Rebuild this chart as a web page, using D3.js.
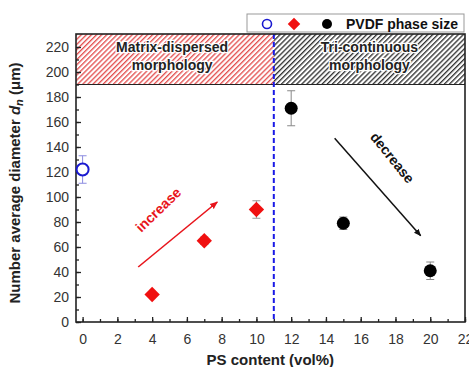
<!DOCTYPE html>
<html>
<head>
<meta charset="utf-8">
<script src="https://cdn.jsdelivr.net/npm/d3@7"></script>
<style>
  body { margin: 0; background: #fff; }
  text { font-family: "Liberation Sans", Arial, sans-serif; }
</style>
</head>
<body>
<div id="chart"></div>
<script>
// data
var neatX      = [0];
var neatY      = [122];
var neatErr    = [11];
var dispX      = [4, 7, 10];
var dispY      = [22, 65, 90];
var dispErr    = [2, 3, 7];
var triX       = [12, 15, 20];
var triY       = [171, 79, 41];
var triErr     = [14, 5, 7];
var xTicks     = [0, 2, 4, 6, 8, 10, 12, 14, 16, 18, 20, 22];
var yTicks     = [0, 20, 40, 60, 80, 100, 120, 140, 160, 180, 200, 220];
var boundaryX  = 11;
var bandFloor  = 190;

var chart_width  = 469;
var chart_height = 367;
var margin = { top: 34, right: 4, bottom: 45, left: 76 };
var w = chart_width - margin.left - margin.right;
var h = chart_height - margin.top - margin.bottom;

var svg = d3.select( '#chart' )
    .append( 'svg' )
    .attr( 'width', chart_width )
    .attr( 'height', chart_height );

var defs = svg.append( 'defs' );
function hatch( id, color ){
    var p = defs.append( 'pattern' )
        .attr( 'id', id )
        .attr( 'patternUnits', 'userSpaceOnUse' )
        .attr( 'width', 3.6 )
        .attr( 'height', 3.6 )
        .attr( 'patternTransform', 'rotate(45)' );
    p.append( 'rect' ).attr( 'width', 3.6 ).attr( 'height', 3.6 ).attr( 'fill', '#fff' );
    p.append( 'line' )
        .attr( 'x1', 0.7 ).attr( 'y1', 0 ).attr( 'x2', 0.7 ).attr( 'y2', 3.6 )
        .attr( 'stroke', color ).attr( 'stroke-width', 1.2 );
}
hatch( 'hatchRed', '#e03a3a' );
hatch( 'hatchBlack', '#1a1a1a' );

var x = d3.scaleLinear().domain( [ -0.38, 22 ] ).range( [ 0, w ] );
var y = d3.scaleLinear().domain( [ 0, 230.4 ] ).range( [ h, 0 ] );

var g = svg.append( 'g' )
    .attr( 'transform', 'translate(' + margin.left + ',' + margin.top + ')' );

// hatched morphology bands
g.append( 'rect' )
    .attr( 'x', 0 ).attr( 'y', 0 )
    .attr( 'width', x( boundaryX ) )
    .attr( 'height', y( bandFloor ) )
    .attr( 'fill', 'url(#hatchRed)' );
g.append( 'rect' )
    .attr( 'x', x( boundaryX ) ).attr( 'y', 0 )
    .attr( 'width', w - x( boundaryX ) )
    .attr( 'height', y( bandFloor ) )
    .attr( 'fill', 'url(#hatchBlack)' );
g.append( 'line' )
    .attr( 'x1', 0 ).attr( 'x2', w )
    .attr( 'y1', y( bandFloor ) ).attr( 'y2', y( bandFloor ) )
    .attr( 'stroke', '#222' ).attr( 'stroke-width', 1.2 );

function bandLabel( cx, lines ){
    var t = g.append( 'text' )
        .attr( 'x', cx )
        .attr( 'y', 18 )
        .attr( 'text-anchor', 'middle' )
        .attr( 'font-size', 14 )
        .attr( 'font-weight', 'bold' )
        .attr( 'fill', '#222' )
        .attr( 'stroke', '#fff' )
        .attr( 'stroke-width', 2.5 )
        .attr( 'paint-order', 'stroke' );
    lines.forEach( function( s, i ){
        t.append( 'tspan' ).attr( 'x', cx ).attr( 'dy', i ? 18 : 0 ).text( s );
    });
}
bandLabel( x( 5.15 ), [ 'Matrix-dispersed', 'morphology' ] );
bandLabel( x( 16.5 ), [ 'Tri-continuous', 'morphology' ] );

// boundary line
g.append( 'line' )
    .attr( 'x1', x( boundaryX ) ).attr( 'x2', x( boundaryX ) )
    .attr( 'y1', 0 ).attr( 'y2', h )
    .attr( 'stroke', '#1a1ae6' )
    .attr( 'stroke-width', 2 )
    .attr( 'stroke-dasharray', '5,3' );

// axes with inward ticks
var xMinor = d3.range( 0, 23, 1 );
var yMinor = d3.range( 0, 230, 10 );
g.append( 'g' )
    .attr( 'transform', 'translate(0,' + h + ')' )
    .call( d3.axisBottom( x ).tickValues( xMinor ).tickSize( -3 ).tickFormat( '' ) );
var xAxis = g.append( 'g' )
    .attr( 'transform', 'translate(0,' + h + ')' )
    .call( d3.axisBottom( x ).tickValues( xTicks ).tickSize( -5 ).tickPadding( 12 ) );
g.append( 'g' )
    .call( d3.axisLeft( y ).tickValues( yMinor ).tickSize( -3 ).tickFormat( '' ) );
var yAxis = g.append( 'g' )
    .call( d3.axisLeft( y ).tickValues( yTicks ).tickSize( -5 ).tickPadding( 7 ) );

svg.selectAll( '.domain' ).remove();
svg.selectAll( '.tick line' ).attr( 'stroke', '#222' ).attr( 'stroke-width', 1.3 );
[ xAxis, yAxis ].forEach( function( a ){
    a.selectAll( 'text' )
        .attr( 'font-size', 14 )
        .attr( 'fill', '#333' )
        .attr( 'font-family', '"Liberation Sans", Arial, sans-serif' );
});

// frame
g.append( 'rect' )
    .attr( 'width', w ).attr( 'height', h )
    .attr( 'fill', 'none' )
    .attr( 'stroke', '#222' )
    .attr( 'stroke-width', 1.6 );

// arrows
defs.append( 'marker' )
    .attr( 'id', 'headRed' ).attr( 'viewBox', '0 0 10 10' )
    .attr( 'refX', 9 ).attr( 'refY', 5 )
    .attr( 'markerWidth', 5 ).attr( 'markerHeight', 5 )
    .attr( 'orient', 'auto' )
    .append( 'path' ).attr( 'd', 'M0,1 L10,5 L0,9 Z' ).attr( 'fill', '#e8141b' );
defs.append( 'marker' )
    .attr( 'id', 'headBlack' ).attr( 'viewBox', '0 0 10 10' )
    .attr( 'refX', 9 ).attr( 'refY', 5 )
    .attr( 'markerWidth', 5 ).attr( 'markerHeight', 5 )
    .attr( 'orient', 'auto' )
    .append( 'path' ).attr( 'd', 'M0,1 L10,5 L0,9 Z' ).attr( 'fill', '#111' );

g.append( 'line' )
    .attr( 'x1', x( 3.2 ) ).attr( 'y1', y( 44 ) )
    .attr( 'x2', x( 7.75 ) ).attr( 'y2', y( 96 ) )
    .attr( 'stroke', '#e8141b' ).attr( 'stroke-width', 1.6 )
    .attr( 'marker-end', 'url(#headRed)' );
g.append( 'text' )
    .attr( 'transform', 'translate(' + x( 4.55 ) + ',' + y( 87 ) + ') rotate(-44)' )
    .attr( 'text-anchor', 'middle' )
    .attr( 'font-size', 14 ).attr( 'font-weight', 'bold' )
    .attr( 'fill', '#e8141b' )
    .text( 'increase' );

g.append( 'line' )
    .attr( 'x1', x( 14.5 ) ).attr( 'y1', y( 147 ) )
    .attr( 'x2', x( 19.45 ) ).attr( 'y2', y( 69 ) )
    .attr( 'stroke', '#111' ).attr( 'stroke-width', 1.5 )
    .attr( 'marker-end', 'url(#headBlack)' );
g.append( 'text' )
    .attr( 'transform', 'translate(' + x( 17.6 ) + ',' + y( 129 ) + ') rotate(51)' )
    .attr( 'text-anchor', 'middle' )
    .attr( 'font-size', 14 ).attr( 'font-weight', 'bold' )
    .attr( 'fill', '#111' )
    .text( 'decrease' );

// error bars
function errBars( xs, ys, es, color ){
    var d = xs.map( function( v, i ){ return { x: v, y: ys[ i ], e: es[ i ] }; } );
    var eg = g.append( 'g' ).attr( 'stroke', color ).attr( 'stroke-width', 1 );
    eg.selectAll( '.v' ).data( d ).enter().append( 'line' )
        .attr( 'x1', function( d ){ return x( d.x ); } )
        .attr( 'x2', function( d ){ return x( d.x ); } )
        .attr( 'y1', function( d ){ return y( d.y - d.e ); } )
        .attr( 'y2', function( d ){ return y( d.y + d.e ); } );
    [ -1, 1 ].forEach( function( s ){
        eg.selectAll( null ).data( d ).enter().append( 'line' )
            .attr( 'x1', function( d ){ return x( d.x ) - 4; } )
            .attr( 'x2', function( d ){ return x( d.x ) + 4; } )
            .attr( 'y1', function( d ){ return y( d.y + s * d.e ); } )
            .attr( 'y2', function( d ){ return y( d.y + s * d.e ); } );
    });
}
errBars( neatX, neatY, neatErr, '#8c8ce0' );
errBars( dispX, dispY, dispErr, '#999' );
errBars( triX, triY, triErr, '#888' );

// points
g.selectAll( '.neat' ).data( neatX ).enter().append( 'circle' )
    .attr( 'cx', function( d ){ return x( d ); } )
    .attr( 'cy', function( d, i ){ return y( neatY[ i ] ); } )
    .attr( 'r', 6 )
    .attr( 'fill', '#fff' ).attr( 'stroke', '#1a1ad0' ).attr( 'stroke-width', 2 );

var diamond = d3.symbol().type( d3.symbolDiamond2 ).size( 150 );
g.selectAll( '.disp' ).data( dispX ).enter().append( 'path' )
    .attr( 'd', diamond )
    .attr( 'transform', function( d, i ){
        return 'translate(' + x( d ) + ',' + y( dispY[ i ] ) + ')';
    })
    .attr( 'fill', '#f01010' );

g.selectAll( '.tri' ).data( triX ).enter().append( 'circle' )
    .attr( 'cx', function( d ){ return x( d ); } )
    .attr( 'cy', function( d, i ){ return y( triY[ i ] ); } )
    .attr( 'r', 6.5 )
    .attr( 'fill', '#000' );

// legend
var lg = svg.append( 'g' );
lg.append( 'rect' )
    .attr( 'x', 247 ).attr( 'y', 14 )
    .attr( 'width', 217 ).attr( 'height', 18 )
    .attr( 'fill', '#fff' ).attr( 'stroke', '#999' ).attr( 'stroke-width', 1 );
lg.append( 'circle' )
    .attr( 'cx', 267 ).attr( 'cy', 24 ).attr( 'r', 4.5 )
    .attr( 'fill', '#fff' ).attr( 'stroke', '#1a1ad0' ).attr( 'stroke-width', 1.6 );
lg.append( 'path' )
    .attr( 'd', d3.symbol().type( d3.symbolDiamond2 ).size( 100 ) )
    .attr( 'transform', 'translate(294,24)' )
    .attr( 'fill', '#f01010' );
lg.append( 'circle' )
    .attr( 'cx', 327 ).attr( 'cy', 24 ).attr( 'r', 5 )
    .attr( 'fill', '#000' );
lg.append( 'text' )
    .attr( 'x', 346 ).attr( 'y', 29 )
    .attr( 'font-size', 14 ).attr( 'font-weight', 'bold' )
    .attr( 'fill', '#111' )
    .text( 'PVDF phase size' );

// axis titles
svg.append( 'text' )
    .attr( 'x', margin.left + x( 10.8 ) )
    .attr( 'y', 365 )
    .attr( 'text-anchor', 'middle' )
    .attr( 'font-size', 15 ).attr( 'font-weight', 'bold' )
    .attr( 'fill', '#222' )
    .text( 'PS content (vol%)' );

var yt = svg.append( 'text' )
    .attr( 'transform', 'translate(20,183) rotate(-90)' )
    .attr( 'text-anchor', 'middle' )
    .attr( 'font-size', 15 ).attr( 'font-weight', 'bold' )
    .attr( 'fill', '#222' );
yt.append( 'tspan' ).text( 'Number average diameter ' );
yt.append( 'tspan' ).attr( 'font-style', 'italic' ).text( 'd' );
yt.append( 'tspan' ).attr( 'font-style', 'italic' ).attr( 'font-size', 11 ).attr( 'dy', 3 ).text( 'n' );
yt.append( 'tspan' ).attr( 'dy', -3 ).text( ' (μm)' );
</script>
</body>
</html>
